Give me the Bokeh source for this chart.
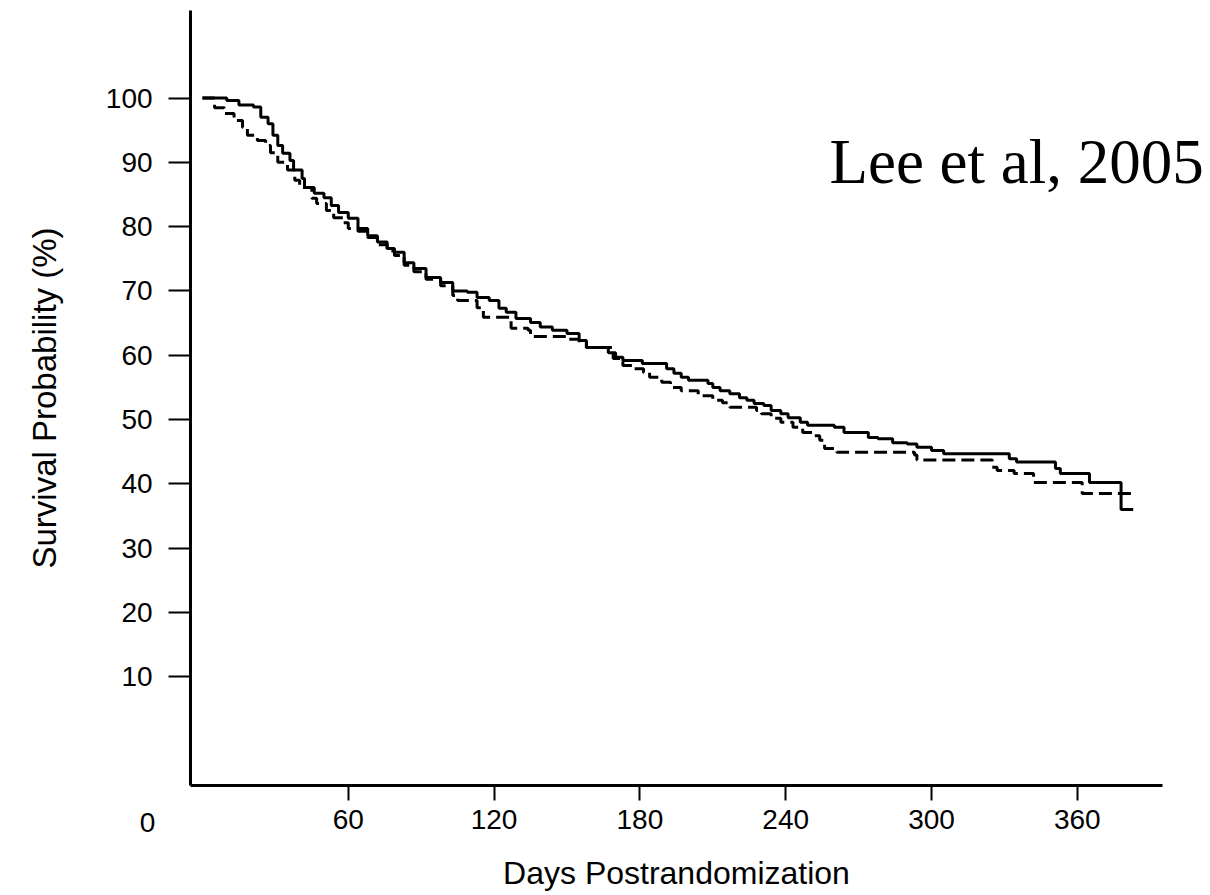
from bokeh.plotting import figure
from bokeh.models import FixedTicker, Label, Range1d
from bokeh.embed import file_html
from bokeh.resources import INLINE

# Kaplan-Meier curves (days postrandomization, survival %)
solid_days = [0, 10, 15, 21, 24, 27, 29, 31, 33, 36, 37.5, 41, 42, 46, 50, 53, 56, 60,
              64, 68, 72, 76, 79, 83, 87, 92, 98, 103, 109, 113, 118, 122, 125, 129,
              135, 139, 144, 150, 155, 158, 167, 170, 173, 181, 191, 194, 197, 200,
              208, 210, 213, 217, 221, 224, 227, 231, 234, 238, 241, 246, 249, 260,
              264, 274, 278, 284, 290, 294, 300, 305, 332, 335, 351, 353, 365, 378, 383]
solid_surv = [100, 99.6, 98.9, 98.6, 97.0, 96.0, 94.2, 92.6, 91.4, 90.3, 88.8, 87.5,
              86.1, 85.2, 84.5, 83.3, 82.2, 81.3, 79.7, 78.6, 77.6, 76.6, 76.0, 74.4,
              73.5, 72.1, 71.3, 70.0, 69.8, 69.0, 68.5, 67.3, 66.7, 65.7, 65.1, 64.4,
              63.9, 63.4, 62.3, 61.2, 60.4, 59.7, 59.2, 58.7, 57.9, 57.2, 56.6, 56.1,
              55.6, 55.0, 54.5, 54.0, 53.4, 53.0, 52.5, 52.2, 51.4, 50.9, 50.3, 49.6,
              49.1, 48.8, 48.0, 47.2, 47.0, 46.4, 46.2, 45.7, 45.2, 44.7, 43.9, 43.4,
              42.4, 41.6, 40.2, 36.0, 36.0]

dashed_days = [0, 5, 9, 13, 16.5, 18.5, 22.6, 26, 28, 31, 35, 38, 40, 45, 47, 51, 54,
               58, 60, 64, 68, 72, 76, 79, 83, 87, 92, 98, 103, 105, 113, 115.6, 127,
               134, 135, 150, 155, 158, 169, 173, 177, 181.5, 184, 189, 192.6, 197, 204,
               210, 214, 217, 228, 230, 234, 238, 243, 247, 251, 254, 256, 261, 293,
               294, 325, 327, 334, 342, 362, 383]
dashed_surv = [100, 98.5, 97.6, 96.5, 95.4, 94.2, 93.4, 92.6, 91.5, 90.0, 88.8, 87.2,
               86.1, 84.4, 83.6, 82.5, 81.4, 80.6, 79.7, 79.3, 78.3, 77.2, 76.2, 75.5,
               74.0, 73.0, 71.8, 70.8, 69.3, 68.5, 67.4, 65.9, 64.2, 63.9, 62.9, 62.5,
               62.0, 61.2, 59.5, 58.4, 57.9, 57.3, 56.6, 55.8, 55.0, 54.5, 53.7, 53.0,
               52.6, 51.9, 51.4, 50.9, 50.2, 49.6, 48.8, 48.0, 47.5, 46.8, 45.5, 44.9,
               44.5, 43.7, 42.6, 42.1, 41.6, 40.2, 38.5, 38.5]

x_ticks = [60, 120, 180, 240, 300, 360]
y_ticks = [10, 20, 30, 40, 50, 60, 70, 80, 90, 100]
x_axis_extent = (-4.9, 395.1)
y_axis_extent = (-6.9, 113.6)

x_title = "Days Postrandomization"
y_title = "Survival Probability (%)"
annotation = "Lee et al, 2005"

p = figure(width=1210, height=895, frame_width=1210, frame_height=895,
           output_backend="svg", toolbar_location=None,
           x_range=Range1d(-83.1, 414.8), y_range=Range1d(-24.0, 115.16),
           min_border_left=0, min_border_right=0, min_border_top=0,
           min_border_bottom=0)
p.outline_line_color = None
p.xgrid.visible = False
p.ygrid.visible = False
p.background_fill_color = "white"
p.border_fill_color = "white"

p.step(solid_days, solid_surv, mode="after", line_color="black", line_width=3)
p.step(dashed_days, dashed_surv, mode="after", line_color="black", line_width=3,
       line_dash="13 6")

font = "Liberation Sans"
for ax in (p.xaxis[0], p.yaxis[0]):
    ax.axis_line_width = 3
    ax.axis_line_color = "black"
    ax.major_tick_line_width = 2
    ax.major_tick_line_color = "black"
    ax.minor_tick_line_color = None
    ax.major_tick_in = 0
    ax.major_label_text_font = font
    ax.major_label_text_color = "black"
    ax.axis_label_text_font = font
    ax.axis_label_text_font_style = "normal"
    ax.axis_label_text_color = "black"

p.xaxis.ticker = FixedTicker(ticks=x_ticks)
p.yaxis.ticker = FixedTicker(ticks=y_ticks)
p.xaxis.bounds = x_axis_extent
p.yaxis.bounds = y_axis_extent
p.xaxis.fixed_location = y_axis_extent[0]
p.yaxis.fixed_location = x_axis_extent[0]
p.xaxis.major_tick_out = 15
p.yaxis.major_tick_out = 22
p.xaxis.major_label_standoff = 9
p.yaxis.major_label_standoff = 16
p.xaxis.major_label_text_font_size = "28px"
p.yaxis.major_label_text_font_size = "28px"
p.xaxis.axis_label = x_title
p.yaxis.axis_label = y_title
p.xaxis.axis_label_text_font_size = "32px"
p.yaxis.axis_label_text_font_size = "33px"
p.xaxis.axis_label_standoff = 23
p.yaxis.axis_label_standoff = 40

p.add_layout(Label(x=-22.6, y=-12.6, text="0", text_font=font, text_font_size="28px",
                   text_align="center", text_baseline="middle", text_color="black"))
p.add_layout(Label(x=258, y=90, text=annotation, text_font="Liberation Serif",
                   text_font_size="63px", text_align="left",
                   text_baseline="alphabetic", text_color="black"))

open("out.html", "w").write(file_html(p, INLINE))
